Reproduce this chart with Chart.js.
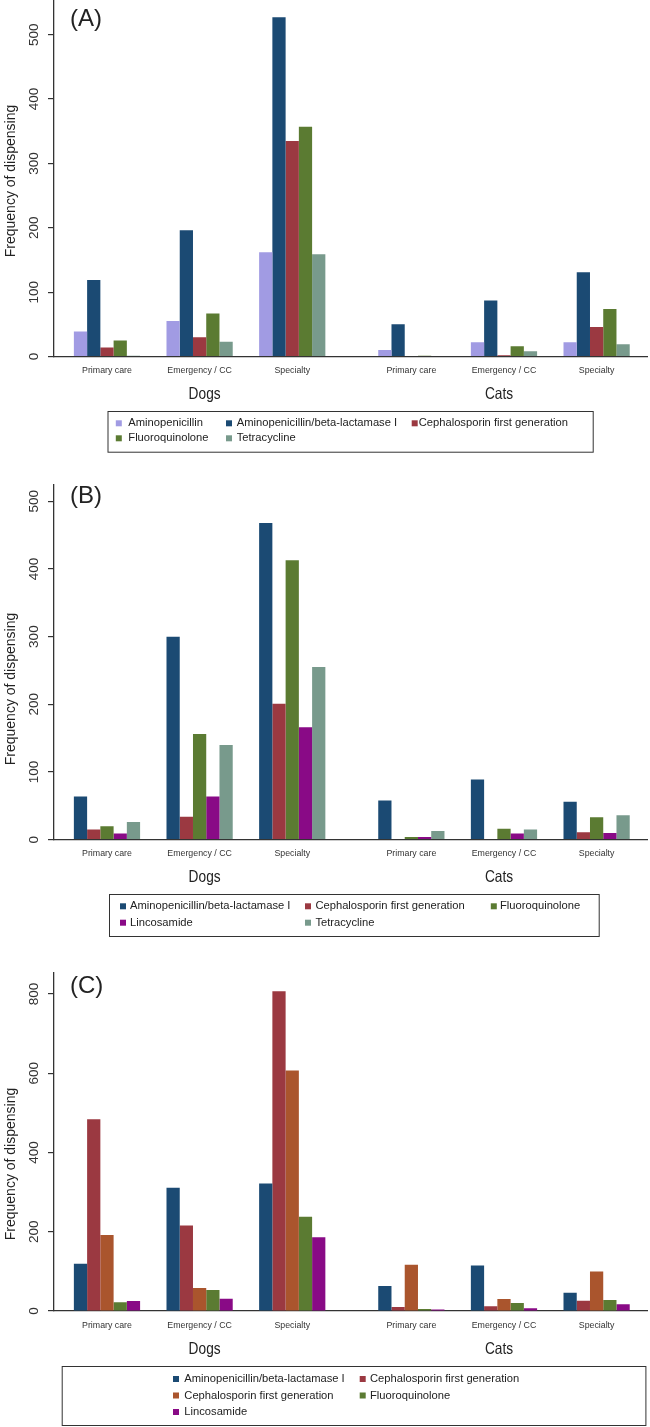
<!DOCTYPE html>
<html>
<head>
<meta charset="utf-8">
<script src="https://cdn.jsdelivr.net/npm/chart.js@4.4.1/dist/chart.umd.min.js"></script>
<style>
  body { margin: 0; background: #fff; }
  canvas { display: block; }
</style>
</head>
<body>
<canvas id="chartA" width="650" height="460"></canvas>
<canvas id="chartB" width="650" height="485"></canvas>
<canvas id="chartC" width="650" height="482"></canvas>
<script>
// categories: practice type within species
const settings = ["Primary care", "Emergency / CC", "Specialty", "Primary care", "Emergency / CC", "Specialty"];
const species = ["Dogs", "Cats"];
// group centres on the x scale (gap between dogs and cats)
const groupX = [0, 1, 2, 3.286, 4.286, 5.286];

// (A)
const aAminopenicillin = [39, 55, 162, 10, 22, 22];
const aAminoBli = [119, 196, 527, 50, 87, 131];
const aCephalosporin = [14, 30, 335, 0, 2, 46];
const aFluoroquinolone = [25, 67, 357, 1, 16, 74];
const aTetracycline = [1, 23, 159, 0, 8, 19];
const aTicks = [0, 100, 200, 300, 400, 500];

// (B)
const bAminoBli = [64, 300, 468, 58, 89, 56];
const bCephalosporin = [15, 34, 201, 1, 1, 11];
const bFluoroquinolone = [20, 156, 413, 4, 16, 33];
const bLincosamide = [9, 64, 166, 4, 9, 10];
const bTetracycline = [26, 140, 255, 13, 15, 36];
const bTicks = [0, 100, 200, 300, 400, 500];

// (C)
const cAminoBli = [119, 311, 322, 63, 115, 46];
const cCephalosporin = [484, 216, 807, 10, 12, 26];
const cCephalosporin2 = [192, 58, 607, 117, 30, 100];
const cFluoroquinolone = [22, 53, 238, 5, 20, 28];
const cLincosamide = [25, 31, 186, 4, 7, 17];
const cTicks = [0, 200, 400, 600, 800];

const colors = {
  amino: "#a19be3",
  bli: "#1b4a73",
  ceph: "#9b3941",
  ceph2: "#aa552d",
  fluoro: "#5b7b32",
  tetra: "#789a8c",
  linco: "#890a86",
};

const SANS = '"Liberation Sans", Arial, sans-serif';

function drawPanel(id, cfg) {
  const decor = {
    id: "decor",
    afterDraw(chart) {
      const { ctx, chartArea, scales } = chart;
      const base = chartArea.bottom;
      ctx.save();
      ctx.fillStyle = "#222";

      // panel tag
      ctx.font = "24px " + SANS;
      ctx.textAlign = "left";
      ctx.textBaseline = "middle";
      ctx.fillText(cfg.tag, 70, cfg.tagY);

      // rotated y tick labels
      ctx.font = "13.5px " + SANS;
      ctx.fillStyle = "#333";
      ctx.textAlign = "center";
      scales.y.ticks.forEach(t => {
        const py = scales.y.getPixelForValue(t.value);
        ctx.save();
        ctx.translate(34.5, py);
        ctx.rotate(-Math.PI / 2);
        ctx.fillText(String(t.value), 0, 0);
        ctx.restore();
      });

      // y title
      ctx.font = "14px " + SANS;
      ctx.fillStyle = "#222";
      ctx.save();
      ctx.translate(11.5, base - cfg.titleOffset);
      ctx.rotate(-Math.PI / 2);
      ctx.fillText("Frequency of dispensing", 0, 0);
      ctx.restore();

      // species labels (condensed, like the original's narrow face)
      ctx.font = "16.5px " + SANS;
      [1, 4].forEach((g, k) => {
        ctx.save();
        ctx.translate(scales.x.getPixelForValue(groupX[g]) + (k ? -5 : 5), base + 38);
        ctx.scale(0.83, 1);
        ctx.fillText(species[k], 0, 0);
        ctx.restore();
      });

      // legend
      const lg = cfg.legend;
      ctx.strokeStyle = "#333";
      ctx.lineWidth = 1;
      ctx.strokeRect(lg.x1 + 0.5, base + lg.top + 0.5, lg.x2 - lg.x1, lg.bottom - lg.top);
      ctx.font = "11.2px " + SANS;
      ctx.textAlign = "left";
      cfg.series.forEach(s => {
        const ry = base + lg.rows[s.row];
        ctx.fillStyle = s.color;
        ctx.fillRect(lg.sq[s.col], ry - 3, 6, 6);
        ctx.fillStyle = "#222";
        ctx.fillText(s.label, lg.text[s.col], ry);
      });
      ctx.restore();
    },
  };

  return new Chart(document.getElementById(id), {
    type: "bar",
    data: {
      datasets: cfg.series.map(s => ({
        label: s.label,
        data: s.values.map((v, i) => ({ x: groupX[i], y: v })),
        backgroundColor: s.color,
        borderWidth: 0,
        categoryPercentage: 0.715,
        barPercentage: 1,
      })),
    },
    options: {
      responsive: false,
      animation: false,
      devicePixelRatio: 1,
      layout: { padding: { top: cfg.padTop, bottom: cfg.padBottom, left: 0, right: 3 } },
      plugins: { legend: { display: false }, tooltip: { enabled: false } },
      scales: {
        x: {
          type: "linear",
          min: -0.572,
          max: 5.83,
          offset: false,
          grid: { display: false },
          border: { display: true, color: "#333", width: 1.3 },
          afterBuildTicks: axis => { axis.ticks = groupX.map(v => ({ value: v })); },
          afterFit: axis => { axis.height = 30; },
          ticks: {
            autoSkip: false,
            maxRotation: 0,
            minRotation: 0,
            padding: 1,
            color: "#333",
            font: { family: SANS, size: 8.8 },
            callback: (v, i) => settings[i],
          },
        },
        y: {
          min: 0,
          max: cfg.yMax,
          afterBuildTicks: axis => { axis.ticks = cfg.yTicks.map(v => ({ value: v })); },
          afterFit: axis => { axis.width = 54; },
          grid: { drawOnChartArea: false, drawTicks: true, tickLength: 6, color: "#333", lineWidth: 1.2 },
          border: { display: true, color: "#333", width: 1.3 },
          ticks: { display: false },
        },
      },
    },
    plugins: [decor],
  });
}

drawPanel("chartA", {
  tag: "(A)", tagY: 19, titleOffset: 175.5,
  padTop: 0, padBottom: 73.5, yMax: 554, yTicks: aTicks,
  legend: { x1: 107.5, x2: 592.7, top: 54.5, bottom: 95.2, rows: [66.8, 81.8], sq: [115.8, 226, 411.7], text: [128.3, 236.7, 418.7] },
  series: [
    { label: "Aminopenicillin", values: aAminopenicillin, color: colors.amino, col: 0, row: 0 },
    { label: "Aminopenicillin/beta-lactamase I", values: aAminoBli, color: colors.bli, col: 1, row: 0 },
    { label: "Cephalosporin first generation", values: aCephalosporin, color: colors.ceph, col: 2, row: 0 },
    { label: "Fluoroquinolone", values: aFluoroquinolone, color: colors.fluoro, col: 0, row: 1 },
    { label: "Tetracycline", values: aTetracycline, color: colors.tetra, col: 1, row: 1 },
  ],
});

drawPanel("chartB", {
  tag: "(B)", tagY: 36, titleOffset: 150.7,
  padTop: 25, padBottom: 75.3, yMax: 524, yTicks: bTicks,
  legend: { x1: 109, x2: 598.7, top: 54.3, bottom: 96.3, rows: [66.6, 83], sq: [120, 305, 490.8], text: [130, 315.4, 500] },
  series: [
    { label: "Aminopenicillin/beta-lactamase I", values: bAminoBli, color: colors.bli, col: 0, row: 0 },
    { label: "Cephalosporin first generation", values: bCephalosporin, color: colors.ceph, col: 1, row: 0 },
    { label: "Fluoroquinolone", values: bFluoroquinolone, color: colors.fluoro, col: 2, row: 0 },
    { label: "Lincosamide", values: bLincosamide, color: colors.linco, col: 0, row: 1 },
    { label: "Tetracycline", values: bTetracycline, color: colors.tetra, col: 1, row: 1 },
  ],
});

drawPanel("chartC", {
  tag: "(C)", tagY: 41, titleOffset: 147,
  padTop: 27.7, padBottom: 86, yMax: 854, yTicks: cTicks,
  legend: { x1: 61.7, x2: 645.4, top: 55, bottom: 114, rows: [68, 84.5, 101], sq: [173, 359.7], text: [184.3, 370] },
  series: [
    { label: "Aminopenicillin/beta-lactamase I", values: cAminoBli, color: colors.bli, col: 0, row: 0 },
    { label: "Cephalosporin first generation", values: cCephalosporin, color: colors.ceph, col: 1, row: 0 },
    { label: "Cephalosporin first generation", values: cCephalosporin2, color: colors.ceph2, col: 0, row: 1 },
    { label: "Fluoroquinolone", values: cFluoroquinolone, color: colors.fluoro, col: 1, row: 1 },
    { label: "Lincosamide", values: cLincosamide, color: colors.linco, col: 0, row: 2 },
  ],
});
</script>
</body>
</html>
